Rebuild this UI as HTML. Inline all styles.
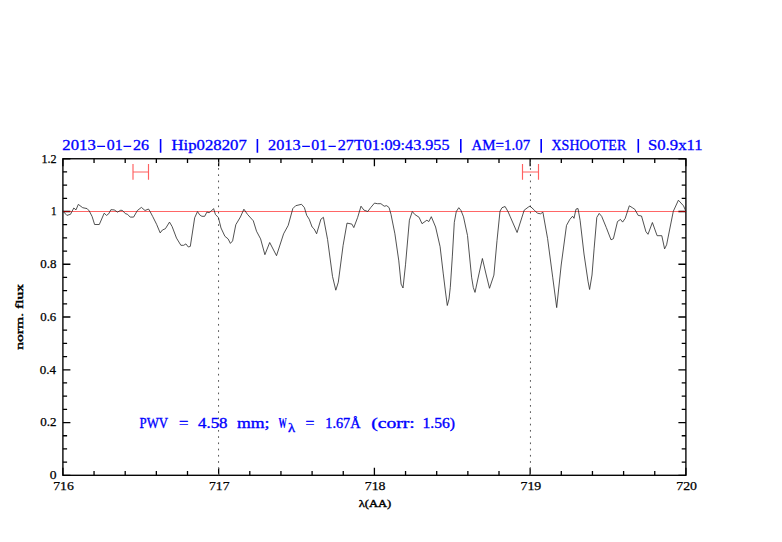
<!DOCTYPE html>
<html><head><meta charset="utf-8"><style>
html,body{margin:0;padding:0;background:#fff;width:782px;height:542px;overflow:hidden}
svg{display:block}
</style></head><body>
<svg width="782" height="542" viewBox="0 0 782 542"><rect x="62.9" y="158.75" width="623" height="316.55" fill="none" stroke="#000" stroke-width="1.35"/>
<path d="M62.9 475.3V467.8M62.9 158.75V166.25M94.05 475.3V471.1M94.05 158.75V162.95M125.2 475.3V471.1M125.2 158.75V162.95M156.35 475.3V471.1M156.35 158.75V162.95M187.5 475.3V471.1M187.5 158.75V162.95M218.65 475.3V467.8M218.65 158.75V166.25M249.8 475.3V471.1M249.8 158.75V162.95M280.95 475.3V471.1M280.95 158.75V162.95M312.1 475.3V471.1M312.1 158.75V162.95M343.25 475.3V471.1M343.25 158.75V162.95M374.4 475.3V467.8M374.4 158.75V166.25M405.55 475.3V471.1M405.55 158.75V162.95M436.7 475.3V471.1M436.7 158.75V162.95M467.85 475.3V471.1M467.85 158.75V162.95M499 475.3V471.1M499 158.75V162.95M530.15 475.3V467.8M530.15 158.75V166.25M561.3 475.3V471.1M561.3 158.75V162.95M592.45 475.3V471.1M592.45 158.75V162.95M623.6 475.3V471.1M623.6 158.75V162.95M654.75 475.3V471.1M654.75 158.75V162.95M685.9 475.3V467.8M685.9 158.75V166.25M62.9 475.3H70.4M685.9 475.3H678.4M62.9 462.11H67.1M685.9 462.11H681.7M62.9 448.92H67.1M685.9 448.92H681.7M62.9 435.73H67.1M685.9 435.73H681.7M62.9 422.54H70.4M685.9 422.54H678.4M62.9 409.35H67.1M685.9 409.35H681.7M62.9 396.16H67.1M685.9 396.16H681.7M62.9 382.97H67.1M685.9 382.97H681.7M62.9 369.78H70.4M685.9 369.78H678.4M62.9 356.59H67.1M685.9 356.59H681.7M62.9 343.4H67.1M685.9 343.4H681.7M62.9 330.21H67.1M685.9 330.21H681.7M62.9 317.02H70.4M685.9 317.02H678.4M62.9 303.84H67.1M685.9 303.84H681.7M62.9 290.65H67.1M685.9 290.65H681.7M62.9 277.46H67.1M685.9 277.46H681.7M62.9 264.27H70.4M685.9 264.27H678.4M62.9 251.08H67.1M685.9 251.08H681.7M62.9 237.89H67.1M685.9 237.89H681.7M62.9 224.7H67.1M685.9 224.7H681.7M62.9 211.51H70.4M685.9 211.51H678.4M62.9 198.32H67.1M685.9 198.32H681.7M62.9 185.13H67.1M685.9 185.13H681.7M62.9 171.94H67.1M685.9 171.94H681.7M62.9 158.75H70.4M685.9 158.75H678.4" stroke="#000" stroke-width="1.3" fill="none"/>
<line x1="218.55" y1="475.3" x2="218.55" y2="158.75" stroke="#555" stroke-width="1" stroke-dasharray="1.7 4.535"/>
<line x1="530.45" y1="475.3" x2="530.45" y2="158.75" stroke="#555" stroke-width="1" stroke-dasharray="1.7 4.535"/>
<line x1="62.9" y1="211.51" x2="685.9" y2="211.51" stroke="#ff0000" stroke-opacity="0.6" stroke-width="1.2"/>
<path d="M62.8,211 66.9,215.4 70.5,214.3 73.8,208 76,209.9 78.3,204.4 82.7,207.7 87.1,208.6 89.3,211 92.1,216.5 94.6,224.5 99.3,224.5 104.2,213.2 106.5,215.4 108.7,213.8 110.9,209.7 114.2,209.9 117.5,212.1 120.8,210.2 122.5,210.5 125.3,213.6 127.5,214.3 130.2,217.1 133.6,217.1 137.4,210.5 141.4,207.4 145,210.5 148.5,209 149.9,211.2 152.7,216.5 156.6,224.3 160.2,232.9 162.4,230 165.4,228.7 169.5,222.1 172.1,226.5 176.5,238.1 180.9,245.3 183.7,245.3 185.9,243.9 188.3,247 190.3,246.4 192.5,232 194.7,217.7 197.5,211.6 199.7,214.9 201.9,216.3 204.7,216.3 206.9,212.1 209.1,212.7 211.3,211 213.6,208.6 215.4,214.4 218.4,217.6 221,228 224.9,236.3 228.1,238.9 230.4,243.4 232.6,240.9 235.8,224.7 240.4,217 243.9,209.2 247.5,214.4 253.3,220.8 256.5,231.2 260.6,238.9 264.9,254.7 269.7,242.5 276.5,255.7 283.6,233.8 288.2,225.4 292.8,208.6 295.7,205.7 301.5,204.3 304.4,207.6 306.7,215.3 309.2,219.2 312.1,227 314.1,228.9 316.6,233.8 320.9,219.2 323.4,217.3 327.6,239.6 332.5,276.4 335.8,290.2 338.3,282.2 343.1,245.4 347,223.1 351.9,224.1 353.8,227.6 357.7,217.3 361,206.2 363.9,210.1 367.8,211.5 370.7,207.6 374.5,203.1 377.4,203.7 380.9,203.7 384.2,206.2 386.7,205.7 389.1,207.6 391,214.4 394.9,233.8 398.8,260.9 401.1,284.1 403,288 405.5,264.8 409.4,220.2 412.3,211.5 414.7,214.4 419.1,217.3 422,223.7 426.9,220.2 428.8,221.6 431.3,216.7 435.6,227 440.1,246.7 443.2,273.1 445.5,292 447.3,305.5 449,299 450.3,287.3 452.3,256.9 454.3,222.3 456.3,211.5 458.8,207.7 461,210.5 463.5,216.8 467.5,235.5 471.6,277.2 473.3,287.5 475,292.4 478.5,276 482.4,258.5 486,274 489.5,288.3 493.9,275.1 497,240.6 500,211.2 502,207.7 505.1,206.5 508.2,212 510,216.2 517.1,232.5 524.2,210.2 528.3,207.1 530,206.1 534.4,210.2 537.4,213.2 540.5,213.8 542.9,212.2 547.6,238.6 552.7,277.2 556.7,307.6 561.2,265 566.5,225.4 569.9,219.3 572.6,216.2 574,218.3 576,209.1 578,208.5 580.1,220.3 584,254 588,281.2 589.6,289.5 592,275 594.1,248.9 596.8,217.4 599.2,213.4 601.7,216.4 606.3,227.6 611,239.8 613.4,238.7 617.5,221.5 620.5,219.4 622.6,222.1 625.2,218.4 629.3,205.8 632.7,207.9 634.8,209.3 638.2,215.4 641.5,216 645.9,231.6 648,234.3 652.4,222.5 657.1,235.7 661.8,235.7 664.6,248.9 666.6,244.8 673.3,211.3 678.4,200.2 683.5,205.8 685.9,211.3" fill="none" stroke="#262626" stroke-width="0.8" stroke-linejoin="round"/>
<path d="M133.0 164.1V179.8M148.5 164.1V179.8M133.0 172H148.5" stroke="#ff6060" stroke-width="1.15" fill="none"/>
<path d="M522.5 164.1V179.8M538.5 164.1V179.8M522.5 172H538.5" stroke="#ff6060" stroke-width="1.15" fill="none"/>
<g fill="#000" stroke="#000"><text x="40.25" y="268.05" font-family="Liberation Serif" font-weight="normal" font-size="12.06" textLength="16.22" lengthAdjust="spacingAndGlyphs" stroke-width="0.25">0.8</text><text x="49.75" y="479.35" font-family="Liberation Serif" font-weight="normal" font-size="12.06" textLength="6.81" lengthAdjust="spacingAndGlyphs" stroke-width="0.25">0</text><text x="40.25" y="426.49" font-family="Liberation Serif" font-weight="normal" font-size="12.06" textLength="16.29" lengthAdjust="spacingAndGlyphs" stroke-width="0.25">0.2</text><text x="39.75" y="373.73" font-family="Liberation Serif" font-weight="normal" font-size="12.06" textLength="16.25" lengthAdjust="spacingAndGlyphs" stroke-width="0.25">0.4</text><text x="40.25" y="320.97" font-family="Liberation Serif" font-weight="normal" font-size="12.06" textLength="16.01" lengthAdjust="spacingAndGlyphs" stroke-width="0.25">0.6</text><text x="51.00" y="215.45" font-family="Liberation Serif" font-weight="normal" font-size="12.06" textLength="5.57" lengthAdjust="spacingAndGlyphs" stroke-width="0.25">1</text><text x="41.50" y="162.65" font-family="Liberation Serif" font-weight="normal" font-size="12.06" textLength="15.13" lengthAdjust="spacingAndGlyphs" stroke-width="0.25">1.2</text><text x="53.25" y="490.25" font-family="Liberation Serif" font-weight="normal" font-size="12.06" textLength="20.54" lengthAdjust="spacingAndGlyphs" stroke-width="0.25">716</text><text x="209.00" y="490.25" font-family="Liberation Serif" font-weight="normal" font-size="12.06" textLength="20.54" lengthAdjust="spacingAndGlyphs" stroke-width="0.25">717</text><text x="364.75" y="490.25" font-family="Liberation Serif" font-weight="normal" font-size="12.06" textLength="20.82" lengthAdjust="spacingAndGlyphs" stroke-width="0.25">718</text><text x="520.50" y="490.25" font-family="Liberation Serif" font-weight="normal" font-size="12.06" textLength="20.82" lengthAdjust="spacingAndGlyphs" stroke-width="0.25">719</text><text x="676.25" y="490.25" font-family="Liberation Serif" font-weight="normal" font-size="12.06" textLength="20.82" lengthAdjust="spacingAndGlyphs" stroke-width="0.25">720</text></g>
<g fill="#000"><text x="22.600" y="349.700" transform="rotate(-90 22.600 349.700)" font-family="Liberation Serif" font-weight="normal" font-size="11.355" textLength="65.752" lengthAdjust="spacingAndGlyphs" stroke="#000" stroke-width="0.4">norm. flux</text><text x="358.700" y="506.500" font-family="Liberation Serif" font-weight="normal" font-size="11.002" textLength="32.553" lengthAdjust="spacingAndGlyphs" stroke="#000" stroke-width="0.4">λ(AA)</text></g>
<g fill="#0000ff" stroke="#0000ff"><text x="62.35" y="150.00" font-family="Liberation Serif" font-weight="normal" font-size="14.71" textLength="33.40" lengthAdjust="spacingAndGlyphs" stroke-width="0.3">2013</text><text x="106.75" y="150.00" font-family="Liberation Serif" font-weight="normal" font-size="14.71" textLength="15.85" lengthAdjust="spacingAndGlyphs" stroke-width="0.3">01</text><text x="133.00" y="150.00" font-family="Liberation Serif" font-weight="normal" font-size="14.71" textLength="16.04" lengthAdjust="spacingAndGlyphs" stroke-width="0.3">26</text><text x="171.50" y="150.00" font-family="Liberation Serif" font-weight="normal" font-size="14.71" textLength="75.25" lengthAdjust="spacingAndGlyphs" stroke-width="0.3">Hip028207</text><text x="268.00" y="150.00" font-family="Liberation Serif" font-weight="normal" font-size="14.71" textLength="32.53" lengthAdjust="spacingAndGlyphs" stroke-width="0.3">2013</text><text x="311.25" y="150.00" font-family="Liberation Serif" font-weight="normal" font-size="14.71" textLength="15.82" lengthAdjust="spacingAndGlyphs" stroke-width="0.3">01</text><text x="337.75" y="150.00" font-family="Liberation Serif" font-weight="normal" font-size="14.71" textLength="111.76" lengthAdjust="spacingAndGlyphs" stroke-width="0.3">27T01:09:43.955</text><text x="471.50" y="150.00" font-family="Liberation Serif" font-weight="normal" font-size="14.71" textLength="58.75" lengthAdjust="spacingAndGlyphs" stroke-width="0.3">AM=1.07</text><text x="551.50" y="150.00" font-family="Liberation Serif" font-weight="normal" font-size="14.71" textLength="74.75" lengthAdjust="spacingAndGlyphs" stroke-width="0.3">XSHOOTER</text><text x="648.00" y="150.00" font-family="Liberation Serif" font-weight="normal" font-size="14.71" textLength="54.55" lengthAdjust="spacingAndGlyphs" stroke-width="0.3">S0.9x11</text><path d="M160.6 139.1V152.7M257.4 139.1V152.7M460.8 139.1V152.7M541.2 139.1V152.7M638.3 139.1V152.7" stroke="#0000ff" stroke-width="1.6"/><path d="M97.2 146.4H105.1M123.5 146.4H131.2M302.2 146.4H309.9M328.5 146.4H335.8" stroke="#0000ff" stroke-width="1.3"/></g>
<g fill="#0000ff" stroke="#0000ff"><text x="198.00" y="427.50" font-family="Liberation Serif" font-weight="normal" font-size="14.42" textLength="29.51" lengthAdjust="spacingAndGlyphs" stroke-width="0.35">4.58</text><text x="139.50" y="427.50" font-family="Liberation Serif" font-weight="normal" font-size="14.42" textLength="28.50" lengthAdjust="spacingAndGlyphs" stroke-width="0.35">PWV</text><text x="179.00" y="427.50" font-family="Liberation Serif" font-weight="normal" font-size="14.42" textLength="9.39" lengthAdjust="spacingAndGlyphs" stroke-width="0.35">=</text><text x="237.00" y="427.50" font-family="Liberation Serif" font-weight="normal" font-size="14.42" textLength="32.54" lengthAdjust="spacingAndGlyphs" stroke-width="0.35">mm;</text><text x="278.50" y="427.50" font-family="Liberation Serif" font-weight="bold" font-size="14.42" textLength="8.26" lengthAdjust="spacingAndGlyphs" stroke-width="0.2">W</text><text x="305.50" y="427.50" font-family="Liberation Serif" font-weight="normal" font-size="14.42" textLength="8.87" lengthAdjust="spacingAndGlyphs" stroke-width="0.35">=</text><text x="325.25" y="427.50" font-family="Liberation Serif" font-weight="normal" font-size="14.42" textLength="35.28" lengthAdjust="spacingAndGlyphs" stroke-width="0.35">1.67Å</text><text x="371.25" y="427.50" font-family="Liberation Serif" font-weight="normal" font-size="14.42" textLength="43.58" lengthAdjust="spacingAndGlyphs" stroke-width="0.35">(corr:</text><text x="422.50" y="427.50" font-family="Liberation Serif" font-weight="normal" font-size="14.42" textLength="32.57" lengthAdjust="spacingAndGlyphs" stroke-width="0.35">1.56)</text><text x="287.9" y="432" font-family="Liberation Serif" font-weight="normal" font-size="12.3" stroke-width="0.35" textLength="7.1" lengthAdjust="spacingAndGlyphs">λ</text></g></svg>
</body></html>
